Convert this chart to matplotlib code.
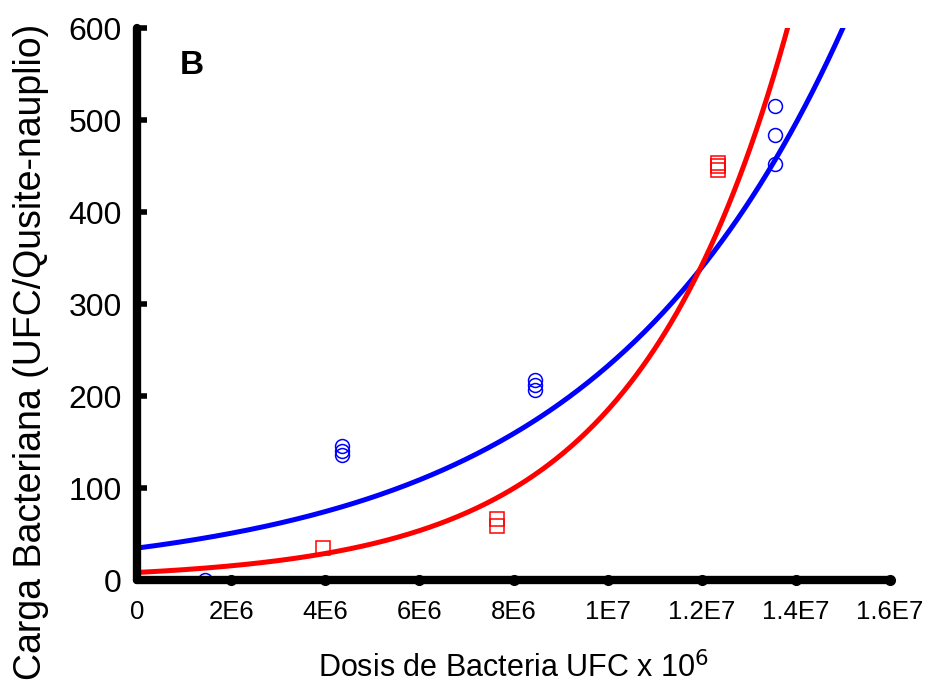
import numpy as np
import matplotlib
matplotlib.use("Agg")
import matplotlib.pyplot as plt

plt.rcParams["font.family"] = ["Liberation Sans", "DejaVu Sans"]

# observed points
blue_x = [1.45e6, 4.35e6, 4.35e6, 4.35e6, 8.45e6, 8.45e6, 8.45e6, 13.55e6, 13.55e6, 13.55e6]
blue_y = [0, 146, 140, 136, 218, 212, 207, 516, 484, 452]
red_x = [0.25e6, 1.3e6, 3.95e6, 7.65e6, 7.65e6, 12.35e6, 12.35e6, 12.35e6]
red_y = [-4, -4, 35, 67, 59, 454, 450, 446]

# exponential fits y = a * exp(b * x)
blue_fit = (35.0, 1.895e-7)
red_fit = (8.5, 3.08e-7)

xticks = [0, 2e6, 4e6, 6e6, 8e6, 1e7, 1.2e7, 1.4e7, 1.6e7]
xtick_labels = ["0", "2E6", "4E6", "6E6", "8E6", "1E7", "1.2E7", "1.4E7", "1.6E7"]
yticks = [0, 100, 200, 300, 400, 500, 600]

fig = plt.figure(figsize=(9.32, 6.9), dpi=100)
ax = fig.add_axes([0.147, 0.159, 0.808, 0.8])

xs = np.linspace(0, 1.6e7, 400)
ax.plot(xs, blue_fit[0] * np.exp(blue_fit[1] * xs), color="#0000ff", lw=3.6, zorder=3)
ax.plot(xs, red_fit[0] * np.exp(red_fit[1] * xs), color="#ff0000", lw=3.6, zorder=3)
ax.plot(blue_x, blue_y, "o", mfc="none", mec="#0000ff", ms=10, mew=1.1, zorder=2)
ax.plot(red_x, red_y, "s", mfc="none", mec="#ff0000", ms=10, mew=1.1, zorder=2)

ax.set_xlim(0, 1.6e7)
ax.set_ylim(0, 600)
for s in ["top", "right"]:
    ax.spines[s].set_visible(False)
for s in ["left", "bottom"]:
    ax.spines[s].set_linewidth(6)
    ax.spines[s].set_capstyle("round")
    ax.spines[s].set_zorder(6)

ax.set_xticks(xticks)
ax.set_xticklabels(xtick_labels)
ax.set_yticks(yticks)
ax.tick_params(axis="x", length=0, labelsize=18.5, pad=14)
ax.tick_params(axis="y", direction="in", length=7, width=4, labelsize=23, pad=11)
# round tick dots on the x axis
ax.plot(xticks[1:], [0] * (len(xticks) - 1), "o", color="k", ms=7, clip_on=False, zorder=7)

fig.text(0.033, 0.49, "Carga Bacteriana (UFC/Qusite-nauplio)", fontsize=27,
         rotation=90, ha="center", va="center")
ax.set_xlabel("Dosis de Bacteria UFC x 10$^6$", fontsize=22, labelpad=20)
ax.text(0.9e6, 560, "B", fontsize=24, fontweight="bold", va="center")

fig.savefig("out.png", dpi=100)
